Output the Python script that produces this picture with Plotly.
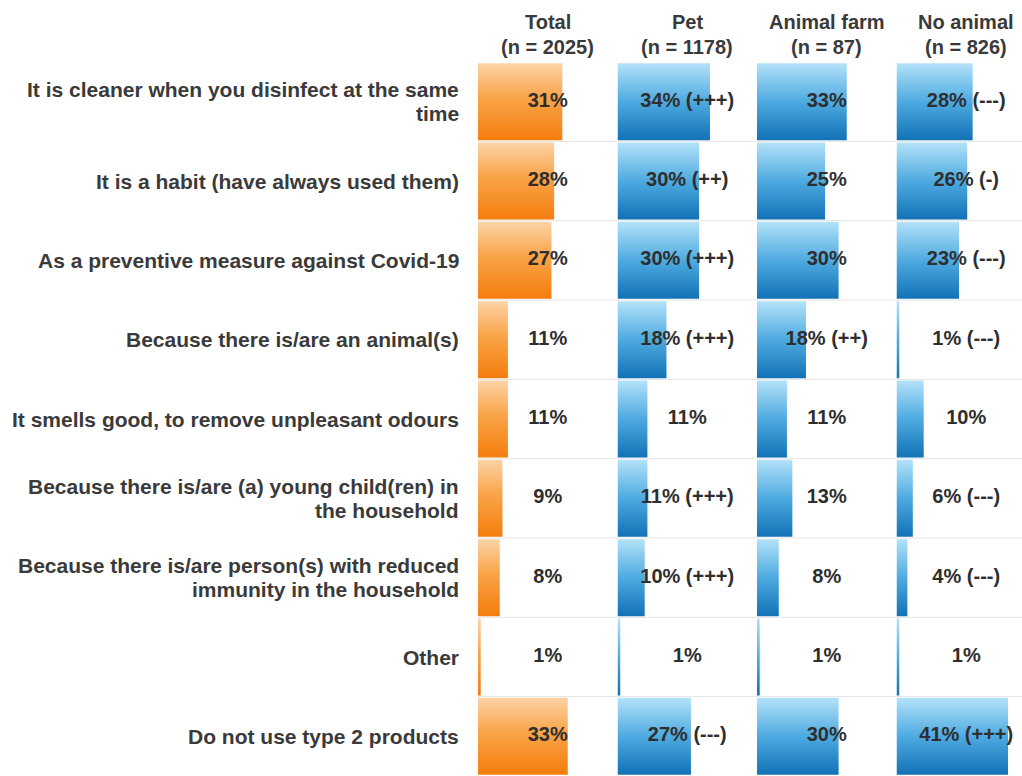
import plotly.graph_objects as go

# Reasons for using type 2 products, by household type (% of respondents)
reasons = [
    "It is cleaner when you disinfect at the same<br>time",
    "It is a habit (have always used them)",
    "As a preventive measure against Covid-19",
    "Because there is/are an animal(s)",
    "It smells good, to remove unpleasant odours",
    "Because there is/are (a) young child(ren) in<br>the household",
    "Because there is/are person(s) with reduced<br>immunity in the household",
    "Other",
    "Do not use type 2 products",
]

groups = ["Total", "Pet", "Animal farm", "No animal"]
group_n = ["(n = 2025)", "(n = 1178)", "(n = 87)", "(n = 826)"]

total = [31, 28, 27, 11, 11, 9, 8, 1, 33]
pet = [34, 30, 30, 18, 11, 11, 10, 1, 27]
animal_farm = [33, 25, 30, 18, 11, 13, 8, 1, 30]
no_animal = [28, 26, 23, 1, 10, 6, 4, 1, 41]

# significance markers versus the total
pet_sig = ["(+++)", "(++)", "(+++)", "(+++)", "", "(+++)", "(+++)", "", "(---)"]
animal_farm_sig = ["", "", "", "(++)", "", "", "", "", ""]
no_animal_sig = ["(---)", "(-)", "(---)", "(---)", "", "(---)", "(---)", "", "(+++)"]
total_sig = [""] * len(total)

series = [total, pet, animal_farm, no_animal]
sigs = [total_sig, pet_sig, animal_farm_sig, no_animal_sig]

# --- layout geometry (pixels) ---
W, H = 1022, 776
PX_PER_PCT = 2.72
PANEL_W = 139.5
panel_left = [478, 617.5, 757, 896.5]
plot_top = 62
label_right = 461
LINE_GAP = 24
TEXT_X = PANEL_W / PX_PER_PCT / 2  # centre of a panel, in % units

# gradients run light at the top to saturated at the bottom
orange_scale = [[0, "#f47d0c"], [0.55, "#f9a449"], [1, "#fcd3a6"]]
blue_scale = [[0, "#1272b6"], [0.5, "#4eaae0"], [1, "#b3e2f9"]]
text_color = "#2e2e2e"
label_color = "#3a3a3a"
font_family = "Liberation Sans, Arial, sans-serif"

fig = go.Figure()
n_rows = len(reasons)
half = 0.485

for g, (vals, sg) in enumerate(zip(series, sigs)):
    xa = "x" if g == 0 else f"x{g + 1}"
    scale = orange_scale if g == 0 else blue_scale
    for i, v in enumerate(vals):
        fig.add_trace(go.Scatter(
            x=[0, v, v, 0, 0],
            y=[i - half, i - half, i + half, i + half, i - half],
            xaxis=xa, yaxis="y",
            mode="lines", fill="toself",
            line=dict(width=0, color="rgba(0,0,0,0)"),
            fillgradient=dict(type="vertical", colorscale=scale),
            hoverinfo="skip", showlegend=False,
        ))
    labels = [f"{v}%" + (f" {s}" if s else "") for v, s in zip(vals, sg)]
    fig.add_trace(go.Scatter(
        x=[TEXT_X] * n_rows, y=list(range(n_rows)),
        xaxis=xa, yaxis="y",
        mode="text", text=labels,
        textfont=dict(family=font_family, size=20, color=text_color, weight="bold"),
        hoverinfo="skip", showlegend=False,
    ))

layout_axes = {}
for g in range(4):
    left = panel_left[g]
    right = min(left + PANEL_W, W)
    key = "xaxis" if g == 0 else f"xaxis{g + 1}"
    layout_axes[key] = dict(
        domain=[left / W, right / W],
        range=[0, (right - left) / PX_PER_PCT],
        visible=False, fixedrange=True, anchor="y",
    )

shapes = []
for g in range(4):
    xr = "x domain" if g == 0 else f"x{g + 1} domain"
    for i in range(n_rows - 1):
        shapes.append(dict(
            type="line", xref=xr, yref="y", x0=0, x1=1, y0=i + 0.5, y1=i + 0.5,
            line=dict(color="#e4e4e4", width=1), layer="below",
        ))

annotations = []
for i, r in enumerate(reasons):
    lines = r.split("<br>")
    for k, line in enumerate(lines):
        annotations.append(dict(
            text=line, xref="paper", yref="y", x=label_right / W, y=i,
            yshift=((len(lines) - 1) / 2 - k) * LINE_GAP,
            xanchor="right", yanchor="middle", align="right", showarrow=False,
            font=dict(family=font_family, size=21, color=label_color, weight="bold"),
        ))
for g in range(4):
    xr = "x" if g == 0 else f"x{g + 1}"
    for txt, ypx in ((groups[g], 22), (group_n[g], 47)):
        annotations.append(dict(
            text=txt, xref=xr, yref="paper", x=TEXT_X, y=1 - ypx / H,
            xanchor="center", yanchor="middle", showarrow=False,
            font=dict(family=font_family, size=20, color=label_color, weight="bold"),
        ))

fig.update_layout(
    width=W, height=H,
    margin=dict(l=0, r=0, t=0, b=0),
    paper_bgcolor="white", plot_bgcolor="white",
    yaxis=dict(domain=[0, (H - plot_top) / H], range=[n_rows - 0.5, -0.5],
               visible=False, fixedrange=True),
    shapes=shapes, annotations=annotations,
    **layout_axes,
)

fig.write_html("out.html")
